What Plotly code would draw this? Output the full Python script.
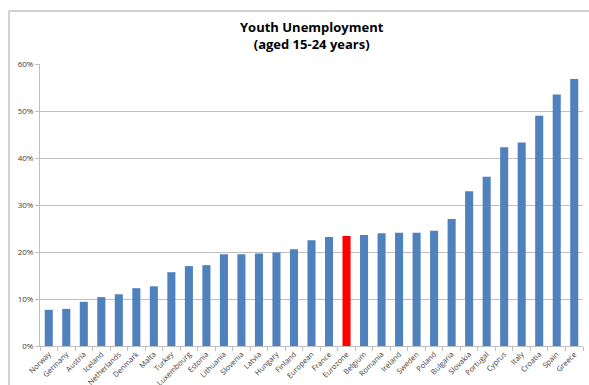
import plotly.graph_objects as go

countries = ["Norway", "Germany", "Austria", "Iceland", "Netherlands", "Denmark", "Malta",
             "Turkey", "Luxembourg", "Estonia", "Lithuania", "Slovenia", "Latvia", "Hungary",
             "Finland", "European", "France", "Eurozone", "Belgium", "Romania", "Ireland",
             "Sweden", "Poland", "Bulgaria", "Slovakia", "Portugal", "Cyprus", "Italy",
             "Croatia", "Spain", "Greece"]
rates = [0.077, 0.079, 0.094, 0.104, 0.110, 0.123, 0.127,
         0.157, 0.170, 0.172, 0.195, 0.195, 0.197, 0.199,
         0.206, 0.225, 0.232, 0.234, 0.236, 0.240, 0.241,
         0.241, 0.245, 0.270, 0.329, 0.360, 0.423, 0.433,
         0.490, 0.535, 0.568]
highlight = "Eurozone"
y_ticks = [0, 0.1, 0.2, 0.3, 0.4, 0.5, 0.6]
title_text = "<b>Youth Unemployment<br>(aged 15-24 years)</b>"

colors = ["#FF0000" if c == highlight else "#4F81BD" for c in countries]

W, H = 589, 385
ml, mr, mt, mb = 40, 6, 64, 39
pw, ph = W - ml - mr, H - mt - mb

fig = go.Figure(go.Bar(x=countries, y=rates, marker=dict(color=colors, line=dict(width=0)),
                       width=0.46))

fig.update_layout(
    width=W, height=H,
    margin=dict(l=ml, r=mr, t=mt, b=mb, autoexpand=False),
    paper_bgcolor="white", plot_bgcolor="white",
    showlegend=False,
    font=dict(family="Open Sans, Calibri, sans-serif", color="#595959"),
    xaxis=dict(type="category", tickangle=-45, tickfont=dict(size=7.5, color="#404040"),
               showline=True, linecolor="#BFBFBF", linewidth=1,
               ticks="outside", ticklen=4, tickcolor="#BFBFBF", tickson="boundaries",
               showgrid=False, automargin=False, range=[-0.5, len(countries) - 0.5]),
    yaxis=dict(range=[0, 0.6], tickvals=y_ticks, tickformat=".0%",
               tickfont=dict(size=8, color="#404040"),
               showgrid=True, gridcolor="#BFBFBF", gridwidth=1,
               showline=True, linecolor="#BFBFBF", linewidth=1,
               ticks="outside", ticklen=4, tickcolor="#BFBFBF",
               zeroline=False, automargin=False),
    bargap=0.54,
)

# title as annotation for exact placement
fig.add_annotation(text=title_text, xref="paper", yref="paper",
                   x=0.5, y=1 + (mt - 16) / ph, xanchor="center", yanchor="top",
                   showarrow=False, align="center",
                   font=dict(size=13, color="#000000", family="Open Sans, sans-serif"))

# outer chart border (left and top)
bx = (9 - ml) / pw
by = 1 + (mt - 11) / ph
fig.add_shape(type="line", xref="paper", yref="paper", x0=bx, x1=bx, y0=-(mb + 5) / ph, y1=by,
              line=dict(color="#A6A6A6", width=1))
fig.add_shape(type="line", xref="paper", yref="paper", x0=bx, x1=1 + (mr + 5) / pw, y0=by, y1=by,
              line=dict(color="#A6A6A6", width=1))

fig.write_html("out.html")
